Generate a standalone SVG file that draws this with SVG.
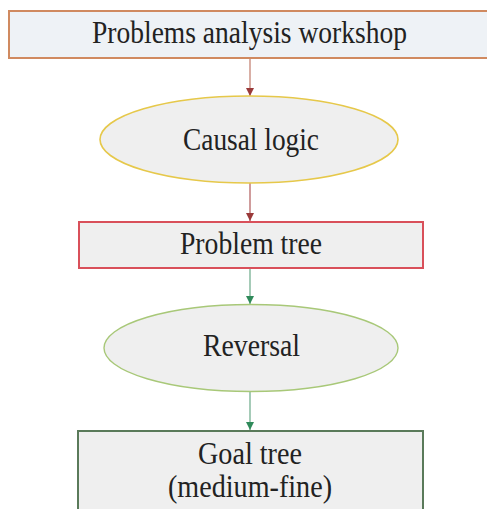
<svg xmlns="http://www.w3.org/2000/svg" width="487" height="509" viewBox="0 0 487 509">
<style>
text{font-family:"Liberation Serif","Times New Roman",serif;fill:#222;text-anchor:middle}
.t{font-size:31px}
</style>
<defs>
<marker id="ar" viewBox="0 0 10 10" refX="10" refY="5" markerWidth="8" markerHeight="8" markerUnits="userSpaceOnUse" orient="auto"><path d="M0,0L10,5L0,10z" fill="#9a3a3a"/></marker>
<marker id="ag" viewBox="0 0 10 10" refX="10" refY="5" markerWidth="8" markerHeight="8" markerUnits="userSpaceOnUse" orient="auto"><path d="M0,0L10,5L0,10z" fill="#2f8a5a"/></marker>
</defs>
<rect width="487" height="509" fill="#fff"/>
<g id="connectors">
<line x1="250" y1="59" x2="250" y2="96" stroke="#c07a6a" stroke-width="1.2" marker-end="url(#ar)"/>
<line x1="250" y1="183" x2="250" y2="221" stroke="#b05a5a" stroke-width="1.2" marker-end="url(#ar)"/>
<line x1="250" y1="268" x2="250" y2="304" stroke="#6aa888" stroke-width="1.2" marker-end="url(#ag)"/>
<line x1="250" y1="392" x2="250" y2="430" stroke="#6aa888" stroke-width="1.2" marker-end="url(#ag)"/>
</g>
<g id="workshop">
<rect x="9" y="11" width="482" height="47" fill="#eef2f6" stroke="#d08a60" stroke-width="2"/>
<text class="t" x="249.5" y="43" textLength="315" lengthAdjust="spacingAndGlyphs">Problems analysis workshop</text>
</g>
<g id="causal">
<ellipse cx="249" cy="139.5" rx="149" ry="43.5" fill="#efefef" stroke="#e6c84a" stroke-width="1.6"/>
<text class="t" x="251" y="150" textLength="136" lengthAdjust="spacingAndGlyphs">Causal logic</text>
</g>
<g id="problemtree">
<rect x="79" y="222" width="344" height="46" fill="#efefef" stroke="#d9505a" stroke-width="2"/>
<text class="t" x="251" y="254" textLength="142" lengthAdjust="spacingAndGlyphs">Problem tree</text>
</g>
<g id="reversal">
<ellipse cx="251" cy="348" rx="147" ry="43.5" fill="#efefef" stroke="#a8c878" stroke-width="1.4"/>
<text class="t" x="251.5" y="356" textLength="97" lengthAdjust="spacingAndGlyphs">Reversal</text>
</g>
<g id="goaltree">
<rect x="78" y="431" width="345" height="90" fill="#efefef" stroke="#5a7a5a" stroke-width="2"/>
<text class="t" x="250" y="464" textLength="104" lengthAdjust="spacingAndGlyphs">Goal tree</text>
<text class="t" x="250" y="497" textLength="164" lengthAdjust="spacingAndGlyphs">(medium-fine)</text>
</g>
</svg>
